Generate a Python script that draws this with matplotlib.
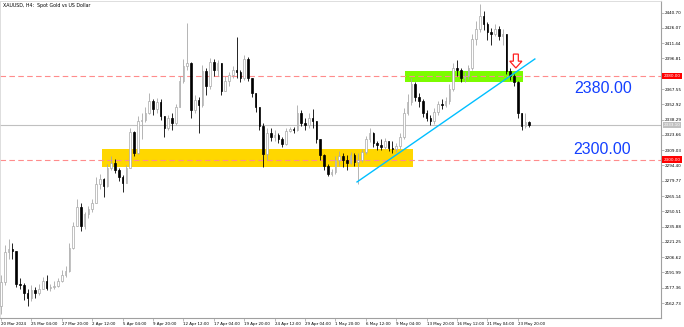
import matplotlib
matplotlib.use('Agg')
import matplotlib.pyplot as plt
import numpy as np
from matplotlib.patches import Rectangle, FancyArrow
from matplotlib.transforms import blended_transform_factory

# ローソク足データ（H4を2本ずつまとめた足）
first_open = 2160.0
close = [
    2183, 2212, 2214, 2213, 2181, 2180, 2172, 2168, 2175, 2172,
    2176, 2184, 2177, 2178, 2179, 2184, 2190, 2193, 2215, 2236,
    2255, 2236, 2248, 2253, 2258, 2277, 2281, 2275, 2292, 2297,
    2290, 2283, 2278, 2292, 2326, 2306, 2337, 2338, 2345, 2356,
    2348, 2355, 2342, 2330, 2340, 2335, 2350, 2375, 2390, 2392,
    2347, 2357, 2352, 2385, 2370, 2393, 2386, 2392, 2366, 2375,
    2381, 2386, 2384, 2378, 2396, 2378, 2364, 2350, 2332, 2305,
    2325, 2322, 2324, 2320, 2315, 2327, 2329, 2328, 2345, 2335,
    2333, 2340, 2337, 2320, 2304, 2294, 2286, 2288, 2300, 2303,
    2300, 2297, 2304, 2298, 2300, 2307, 2320, 2325, 2316, 2314,
    2312, 2318, 2311, 2310, 2313, 2322, 2345, 2355, 2372, 2360,
    2356, 2345, 2340, 2337, 2346, 2353, 2352, 2356, 2368, 2388,
    2386, 2378, 2380, 2388, 2415, 2425, 2437, 2430, 2422, 2420,
    2425, 2418, 2420, 2385, 2380, 2374, 2345, 2332, 2336, 2333,
]
high = [
    2190, 2218, 2224, 2220, 2212, 2187, 2182, 2176, 2180, 2178,
    2181, 2188, 2190, 2181, 2184, 2187, 2194, 2198, 2220, 2240,
    2262, 2258, 2250, 2256, 2262, 2283, 2286, 2282, 2296, 2303,
    2301, 2292, 2285, 2295, 2330, 2327, 2342, 2345, 2350, 2364,
    2358, 2359, 2358, 2340, 2343, 2345, 2353, 2380, 2396, 2431,
    2393, 2362, 2360, 2391, 2388, 2397, 2396, 2395, 2392, 2380,
    2384, 2390, 2417, 2386, 2400, 2398, 2378, 2364, 2350, 2335,
    2330, 2330, 2328, 2325, 2322, 2330, 2331, 2331, 2352, 2347,
    2340, 2345, 2348, 2337, 2320, 2305, 2296, 2291, 2303, 2308,
    2306, 2304, 2307, 2306, 2306, 2310, 2323, 2330, 2326, 2318,
    2320, 2321, 2318, 2318, 2316, 2325, 2349, 2363, 2378, 2374,
    2364, 2358, 2347, 2343, 2349, 2356, 2358, 2360, 2372, 2392,
    2395, 2388, 2384, 2391, 2420, 2433, 2449, 2442, 2432, 2426,
    2430, 2428, 2425, 2420, 2388, 2382, 2375, 2345, 2345, 2337,
]
low = [
    2152, 2180, 2205, 2205, 2178, 2176, 2166, 2160, 2165, 2168,
    2170, 2176, 2175, 2174, 2176, 2178, 2183, 2188, 2192, 2214,
    2236, 2232, 2234, 2244, 2250, 2258, 2272, 2264, 2274, 2290,
    2287, 2280, 2269, 2278, 2292, 2303, 2305, 2320, 2336, 2344,
    2343, 2345, 2338, 2322, 2328, 2328, 2333, 2350, 2373, 2386,
    2340, 2345, 2325, 2350, 2362, 2368, 2380, 2380, 2362, 2366,
    2370, 2378, 2378, 2374, 2376, 2375, 2360, 2346, 2328, 2293,
    2300, 2318, 2318, 2316, 2312, 2314, 2326, 2325, 2327, 2332,
    2328, 2330, 2330, 2316, 2300, 2290, 2284, 2284, 2286, 2294,
    2293, 2290, 2296, 2294, 2277, 2298, 2305, 2317, 2312, 2309,
    2309, 2310, 2308, 2306, 2307, 2310, 2320, 2343, 2352, 2356,
    2350, 2341, 2337, 2333, 2334, 2343, 2348, 2350, 2353, 2366,
    2380, 2374, 2374, 2377, 2386, 2410, 2422, 2424, 2414, 2410,
    2418, 2414, 2410, 2382, 2376, 2370, 2340, 2328, 2330, 2331,
]

date_labels = [
    '20 Mar 2024', '25 Mar 04:00', '27 Mar 20:00', '2 Apr 12:00',
    '5 Apr 04:00', '9 Apr 20:00', '12 Apr 12:00', '17 Apr 04:00',
    '19 Apr 20:00', '24 Apr 12:00', '29 Apr 04:00', '1 May 20:00',
    '6 May 12:00', '9 May 04:00', '13 May 20:00', '16 May 12:00',
    '21 May 04:00', '23 May 20:00',
]
date_tick_bars = [0, 8, 16, 24, 32, 40, 48, 56, 64, 72, 80, 88, 96, 104, 112, 120, 128, 136]

# 2382.18 は赤いラベルの下に隠れるので省略
price_ticks = [
    2440.70, 2426.07, 2411.44, 2396.81, 2367.55, 2352.92,
    2338.29, 2323.66, 2309.03, 2294.40, 2279.77, 2265.14, 2250.51,
    2235.88, 2221.25, 2206.62, 2191.99, 2177.36, 2162.73,
]

# 描画オブジェクト
level_lines = [2380.00, 2300.00]
current_price = 2333.10
yellow_zone = (26.5, 108.4, 2292.6, 2310.1)   # x0, x1, y0, y1
green_zone = (106.3, 137.4, 2374.5, 2385.1)
trend_x = [93.7, 140.5]
trend_y = [2278.6, 2396.3]
arrow_bar = 135.5
arrow_top, arrow_bottom = 2401.0, 2387.7

close = np.array(close, dtype=float)
high = np.array(high, dtype=float)
low = np.array(low, dtype=float)
opens = np.r_[first_open, close[:-1]]
high = np.maximum(high, np.maximum(opens, close))
low = np.minimum(low, np.minimum(opens, close))
idx = np.arange(len(close))

fig = plt.figure(figsize=(6.84, 3.27), dpi=100)
ax = fig.add_axes([0, 9 / 327, 661 / 684, 317 / 327])
ax.set_xlim(-0.26, 173.7)
ax.set_ylim(2148.4, 2451.8)

# ゾーン
ax.add_patch(Rectangle((yellow_zone[0], yellow_zone[2]), yellow_zone[1] - yellow_zone[0],
                       yellow_zone[3] - yellow_zone[2], facecolor='#FFD700', edgecolor='none', zorder=1))
ax.add_patch(Rectangle((green_zone[0], green_zone[2]), green_zone[1] - green_zone[0],
                       green_zone[3] - green_zone[2], facecolor='#7CFC00', edgecolor='none', zorder=1))

# 水平線
for lv in level_lines:
    ax.axhline(lv, color='#FF8C8C', lw=0.8, ls=(0, (5, 3)), zorder=2)
ax.axhline(current_price, color='#C0C0C0', lw=0.8, zorder=2)

# ローソク足
bull = close >= opens
for mask, face, edge in [(bull, 'white', '#a8a8a8'), (~bull, 'black', 'black')]:
    ax.vlines(idx[mask], low[mask], high[mask], color=edge, lw=0.6, zorder=3)
    bottoms = np.minimum(opens, close)[mask]
    heights = np.maximum(np.abs(close - opens)[mask], 0.5)
    ax.bar(idx[mask], heights, bottom=bottoms, width=0.4, color=face,
           edgecolor=edge, linewidth=0.5, zorder=4)

# トレンドライン
ax.plot(trend_x, trend_y, color='#00BFFF', lw=1.0, zorder=5)

# 矢印
ax.add_patch(FancyArrow(arrow_bar, arrow_top, 0, arrow_bottom - arrow_top, width=1.3,
                        head_width=3.2, head_length=6.5, length_includes_head=True,
                        facecolor='white', edgecolor='#FF2020', linewidth=0.9, zorder=6))

# 大きいラベル
ax.text(151.0, 2368.5, '2380.00', color='#1440FF', fontsize=11.5, family='Liberation Sans',
        ha='left', va='center', zorder=7)
ax.text(150.5, 2309.2, '2300.00', color='#1440FF', fontsize=11.5, family='Liberation Sans',
        ha='left', va='center', zorder=7)

# タイトル
fig.text(3 / 684, 1 - 5 / 327, 'XAUUSD, H4:  Spot Gold vs US Dollar', fontsize=3.4,
         ha='left', va='center', color='black')

# 軸
for side in ['left', 'top']:
    ax.spines[side].set_color('#d8d8d8')
    ax.spines[side].set_linewidth(0.6)
for side in ['right', 'bottom']:
    ax.spines[side].set_color('#a0a0a0')
    ax.spines[side].set_linewidth(0.8)

ax.yaxis.tick_right()
ax.set_yticks(price_ticks)
ax.set_yticklabels([f'{p:.2f}' for p in price_ticks])
ax.tick_params(axis='y', labelsize=3.0, length=2, width=0.5, color='#a0a0a0', pad=1)
ax.set_xticks(date_tick_bars)
ax.set_xticklabels(date_labels, ha='left')
ax.tick_params(axis='x', labelsize=2.9, length=2, width=0.5, color='#a0a0a0', pad=1)

trans = blended_transform_factory(ax.transAxes, ax.transData)
for lv in level_lines:
    ax.text(1.004, lv, f'{lv:.2f}', transform=trans, fontsize=3.0, color='white', ha='left',
            va='center', zorder=10, clip_on=False,
            bbox=dict(boxstyle='square,pad=0.35', facecolor='#FF0000', edgecolor='none'))
ax.text(1.004, current_price, f'{current_price:.2f}', transform=trans, fontsize=3.0, color='white',
        ha='left', va='center', zorder=10, clip_on=False,
        bbox=dict(boxstyle='square,pad=0.2', facecolor='#C0C0C0', edgecolor='none'))

fig.savefig('out.png', dpi=100)
